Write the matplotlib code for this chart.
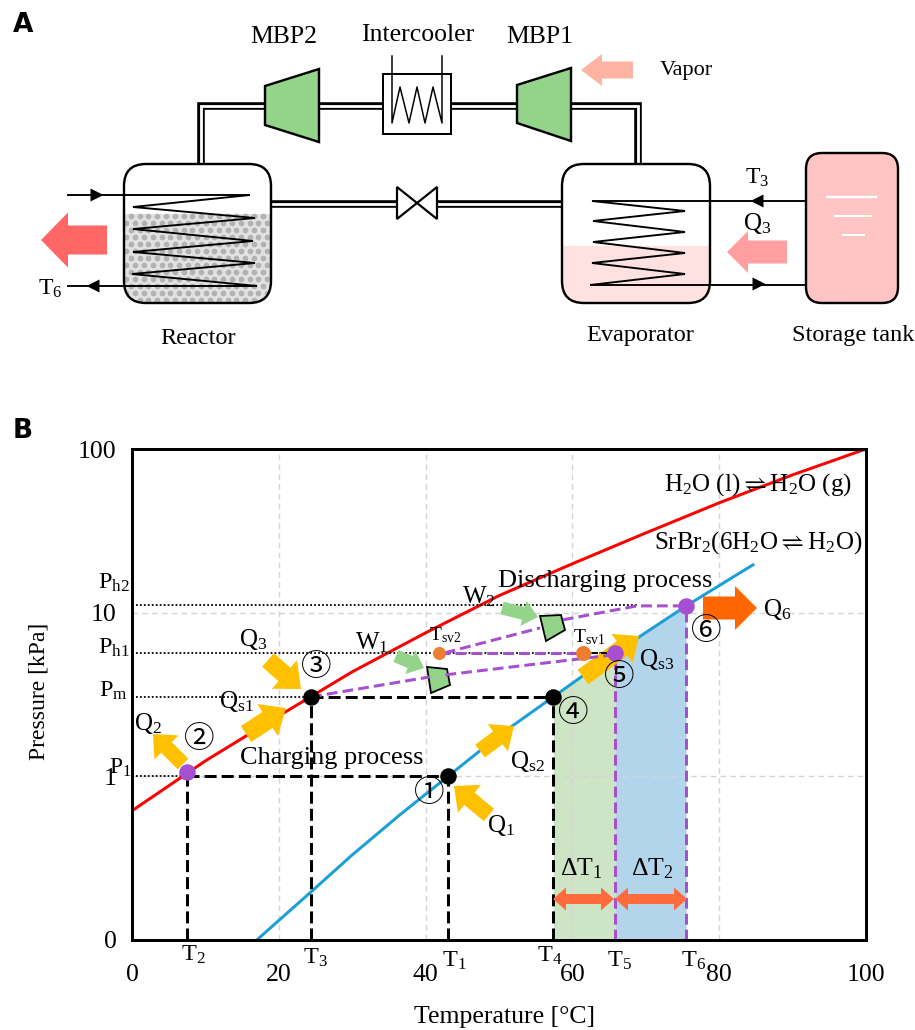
import numpy as np
import matplotlib
matplotlib.use("Agg")
import matplotlib.pyplot as plt
from matplotlib.patches import FancyBboxPatch, Polygon, Rectangle

plt.rcParams['font.family'] = ['Liberation Serif', 'DejaVu Sans']
plt.rcParams['mathtext.fontset'] = 'custom'
plt.rcParams['mathtext.rm'] = 'Liberation Serif'
plt.rcParams['mathtext.it'] = 'Liberation Serif:italic'
plt.rcParams['mathtext.bf'] = 'Liberation Serif:bold'
plt.rcParams['mathtext.fallback'] = 'stix'
plt.rcParams['mathtext.default'] = 'rm'

# ---- chart data (temperature in deg C, pressure in kPa) ----
T_red = [0, 10, 20, 30, 40, 50, 60, 70, 80, 90, 100]
P_red = [0.616, 1.243, 2.34, 4.35, 7.53, 12.7, 19.9, 30.7, 46.9, 69.5, 100]
T_blue = [17.0, 24.4, 30.0, 36.5, 43.05, 50.1, 57.4, 65.8, 75.5, 84.6]
P_blue = [0.1, 0.197, 0.331, 0.582, 1.0, 1.79, 3.06, 5.68, 11.0, 19.6]
T1, T2, T3, T4, T5, T6 = 43.05, 7.5, 24.4, 57.4, 65.8, 75.5
P1, Pm, Ph1, Ph2 = 1.0, 3.06, 5.68, 11.16
P_state2, P_state6 = 1.065, 11.0
T_sv2, T_sv1 = 41.8, 61.4
x_ticks = [0, 20, 40, 60, 80, 100]
y_ticks = [0.1, 1, 10, 100]
y_tick_labels = ['0', '1', '10', '100']
purple_low_a_T, purple_low_a_P = [24.4, 40.6], [3.06, 4.05]
purple_low_b_T, purple_low_b_P = [42.7, 65.5], [4.17, 5.52]
purple_up_a_T, purple_up_a_P = [42.6, 55.6], [5.68, 8.07]
purple_up_b_T, purple_up_b_P = [58.7, 68.8, 75.5], [9.04, 11.0, 11.0]

W, H = 915, 1030
fig = plt.figure(figsize=(W / 100, H / 100), dpi=100, facecolor='white')
PX = 0.72  # one pixel in points

axpos = [132 / W, 1 - 940 / H, 734 / W, 491 / H]
ax = fig.add_axes(axpos, zorder=1)
ax.set_xscale('linear'); ax.set_yscale('log')
ax.set_xlim(0, 100); ax.set_ylim(0.1, 100)
ax.set_xticks(x_ticks); ax.set_yticks(y_ticks); ax.set_yticklabels(y_tick_labels)
ax.minorticks_off()
ax.tick_params(axis='both', length=0, labelsize=18.5)
ax.tick_params(axis='x', pad=17)
ax.tick_params(axis='y', pad=11)
for s in ax.spines.values():
    s.set_linewidth(3 * PX)
    s.set_zorder(6)
ax.set_xlabel('Temperature [°C]', fontsize=18.5, va='center')
ax.xaxis.set_label_coords((505 - 132) / 734, -(1017 - 940) / 491)
ax.set_ylabel('Pressure [kPa]', fontsize=17, va='center')
ax.yaxis.set_label_coords(-(132 - 39) / 734, (940 - 691) / 491)
ax.grid(True, color='#d4d4d4', ls=(0, (4, 3)), lw=1.4 * PX)
ax.set_axisbelow(False)
for axis in (ax.xaxis, ax.yaxis):
    lines = axis.get_gridlines()
    lines[0].set_visible(False)
    lines[-1].set_visible(False)

tb = np.array(T_blue); pb = np.array(P_blue)
m1 = (tb >= T4) & (tb <= T5); m2 = (tb >= T5) & (tb <= T6)
ax.fill_between(tb[m1], 0.1, pb[m1], color='#CDE4C5', lw=0, zorder=1)
ax.fill_between(tb[m2], 0.1, pb[m2], color='#B2D5EB', lw=0, zorder=1)
ax.plot(T_red, P_red, color='#FF0000', lw=3 * PX, zorder=3)
ax.plot(T_blue, P_blue, color='#1B9FD8', lw=3 * PX, zorder=3)

# guide lines
dot = dict(color='black', ls=(0, (1, 1.2)), lw=1.8 * PX, zorder=3)
ax.plot([0, T5], [Ph1, Ph1], **dot)
ax.plot([0, 68.8], [Ph2, Ph2], **dot)
ax.plot([0, T3], [Pm, Pm], **dot)
ax.plot([0, T2], [P1, P1], **dot)
dash = dict(color='black', ls=(0, (4, 1.7)), lw=3 * PX, zorder=3.5)
ax.plot([T2, T1], [P1, P1], **dash)
ax.plot([T3, T4], [Pm, Pm], **dash)
for tv, pv in [(T2, P_state2), (T3, Pm), (T1, P1), (T4, Pm)]:
    ax.plot([tv, tv], [0.1, pv], **dash)
pur = dict(color='#A64FD0', ls=(0, (3.6, 1.7)), lw=3 * PX, zorder=3.5)
for tv, pv in [(T5, Ph1), (T6, P_state6)]:
    ax.plot([tv, tv], [0.1, pv], **pur)

# pixel overlay for arrows and schematic
pa = fig.add_axes([0, 0, 1, 1], zorder=2)
pa.set_xlim(0, W); pa.set_ylim(H, 0); pa.axis('off'); pa.patch.set_alpha(0)


def arrow(a, tip, tail, shaft, head, hlen, color, z=3):
    tip, tail = np.array(tip, float), np.array(tail, float)
    d = tip - tail; d /= np.hypot(*d); n = np.array([-d[1], d[0]])
    b = tip - d * hlen
    pts = [tail + n * shaft / 2, b + n * shaft / 2, b + n * head / 2, tip,
           b - n * head / 2, b - n * shaft / 2, tail - n * shaft / 2]
    a.add_patch(Polygon(pts, closed=True, fc=color, ec='none', zorder=z))


def double_arrow(a, x0, x1, y, shaft, head, hlen, color):
    pts = [(x0, y), (x0 + hlen, y - head / 2), (x0 + hlen, y - shaft / 2),
           (x1 - hlen, y - shaft / 2), (x1 - hlen, y - head / 2), (x1, y),
           (x1 - hlen, y + head / 2), (x1 - hlen, y + shaft / 2),
           (x0 + hlen, y + shaft / 2), (x0 + hlen, y + head / 2)]
    a.add_patch(Polygon(pts, closed=True, fc=color, ec='none', zorder=3))


def pipe(path):
    xs, ys = zip(*path)
    pa.plot(xs, ys, color='black', lw=7.6 * PX, solid_joinstyle='miter', solid_capstyle='butt', zorder=2)
    pa.plot(xs, ys, color='white', lw=2.8 * PX, solid_joinstyle='miter', solid_capstyle='butt', zorder=2.1)


def vessel(x0, y0, x1, y1, r, fc='none', lw=2.4, z=5):
    p = FancyBboxPatch((x0, y0), x1 - x0, y1 - y0, boxstyle=f'round,pad=0,rounding_size={r}',
                       fc=fc, ec='black', lw=lw * PX, zorder=z)
    pa.add_patch(p)
    return p


def tri(x, y, direction):
    s = direction
    pa.add_patch(Polygon([(x + s * 6.5, y), (x - s * 6.5, y - 6.5), (x - s * 6.5, y + 6.5)],
                         fc='black', ec='none', zorder=6))


GREEN = '#94D38A'
YEL = '#FFC000'
# pipes
pipe([(200.5, 164), (200.5, 105.5), (265, 105.5)])
pipe([(319, 105.5), (383, 105.5)])
pipe([(451, 105.5), (517, 105.5)])
pipe([(571, 105.5), (637.5, 105.5), (637.5, 164)])
pipe([(271, 203.5), (397, 203.5)])
pipe([(437, 203.5), (562, 203.5)])

# compressors
for poly in ([(265, 86), (319, 69), (319, 142), (265, 125)],
             [(517, 85), (571, 68), (571, 141), (517, 123)]):
    pa.add_patch(Polygon(poly, fc=GREEN, ec='black', lw=2.4 * PX, zorder=4, joinstyle='miter'))
# intercooler
pa.add_patch(Rectangle((383, 74), 68, 60, fc='white', ec='black', lw=2 * PX, zorder=4))
pa.plot([392, 392, 400, 409, 417, 425, 433, 442, 442], [56, 123, 87, 123, 87, 123, 87, 123, 56],
        color='black', lw=1.5 * PX, zorder=5)
# valve
for poly in ([(397, 187), (397, 219), (417, 203)], [(437, 187), (437, 219), (417, 203)]):
    pa.add_patch(Polygon(poly, fc='white', ec='black', lw=2.2 * PX, zorder=4))

# reactor
vessel(124, 164, 271, 303, 22, fc='none')
pa.add_patch(FancyBboxPatch((124, 164), 147, 139, boxstyle='round,pad=0,rounding_size=22',
                            fc='white', ec='none', zorder=3))
clip = FancyBboxPatch((124, 164), 147, 139, boxstyle='round,pad=0,rounding_size=22',
                      fc='none', ec='none', transform=pa.transData)
pa.add_patch(clip)
bed = Rectangle((124, 214), 147, 89, fc='#e2e2e2', ec='none', zorder=3.2)
pa.add_patch(bed); bed.set_clip_path(clip)
gx, gy = [], []
for i, yy in enumerate(np.arange(216, 304, 7.0)):
    for xx in np.arange(122 + (i % 2) * 4.4, 274, 8.8):
        gx.append(xx); gy.append(yy)
dots = pa.scatter(gx, gy, s=17, c='#b2b2b2', linewidths=0, zorder=3.3)
dots.set_clip_path(clip)
pa.plot([68, 250, 133, 255, 133, 253, 133, 255, 132, 257, 68],
        [195, 195, 207, 218, 229, 241, 252, 263, 274, 286, 286],
        color='black', lw=1.9 * PX, zorder=6, solid_joinstyle='miter')
tri(97, 195, 1); tri(93, 286, -1)

# evaporator
pa.add_patch(FancyBboxPatch((562, 164), 148, 139, boxstyle='round,pad=0,rounding_size=22',
                            fc='white', ec='none', zorder=3))
clip2 = FancyBboxPatch((562, 164), 148, 139, boxstyle='round,pad=0,rounding_size=22',
                       fc='none', ec='none')
pa.add_patch(clip2)
liq = Rectangle((562, 246), 148, 57, fc='#FFE1E1', ec='none', zorder=3.2)
pa.add_patch(liq); liq.set_clip_path(clip2)
vessel(562, 164, 710, 303, 22)
pa.plot([806, 592, 685, 593, 685, 593, 685, 592, 685, 590, 806],
        [201, 201, 211, 221, 232, 242, 253, 263, 274, 285, 285],
        color='black', lw=1.9 * PX, zorder=6, solid_joinstyle='miter')
tri(757, 201, -1); tri(759, 284, 1)

# storage tank
vessel(806, 153, 898, 303, 16, fc='#FFC4C4', z=4)
for x0, x1, y, w in [(826, 877, 197, 2.4), (834, 872, 216, 2), (842, 865, 235, 2)]:
    pa.plot([x0, x1], [y, y], color='white', lw=w * PX, zorder=5, solid_capstyle='butt')

# block arrows of panel A
arrow(pa, (41, 240), (107, 240), 29, 55, 27, '#FF6666')
arrow(pa, (581, 70), (633, 70), 17, 32, 21, '#FFB3A3')
arrow(pa, (727, 252), (787, 252), 23, 42, 21, '#FF9F9F')

# panel B arrows
arrow(pa, (153, 734), (183, 764), 15, 34, 19, YEL)
arrow(pa, (301, 689), (268, 660), 18, 38, 22, YEL)
arrow(pa, (286, 708), (246, 734), 19, 38, 22, YEL)
arrow(pa, (514, 726), (480, 751), 16, 34, 20, YEL)
arrow(pa, (639, 636), (583, 677), 18, 36, 21, YEL)
arrow(pa, (454, 786), (489, 815), 16, 36, 20, YEL)
arrow(pa, (757, 608), (703, 608), 23, 44, 22, '#FF6600')
arrow(pa, (424, 668), (396, 656), 13, 26, 15, GREEN)
arrow(pa, (538, 617), (502, 608), 13, 26, 15, GREEN)
double_arrow(pa, 553, 614, 899, 10, 23, 13, '#FF6B3D')
double_arrow(pa, 615, 687, 899, 10, 23, 13, '#FF6B3D')
pa.add_patch(Polygon([(427, 667), (447, 669), (450, 685), (431, 693)], fc=GREEN, ec='black', lw=1.8 * PX, zorder=4))
pa.add_patch(Polygon([(540, 616), (561, 615), (565, 630), (546, 641)], fc=GREEN, ec='black', lw=1.8 * PX, zorder=4))

# upper data layer: process lines and state points
top = fig.add_axes(axpos, zorder=3, sharex=ax, sharey=ax)
top.axis('off'); top.patch.set_alpha(0)
for tv, pv in [(purple_low_a_T, purple_low_a_P), (purple_low_b_T, purple_low_b_P),
               (purple_up_a_T, purple_up_a_P), (purple_up_b_T, purple_up_b_P),
               ([T_sv2, T_sv1], [Ph1, Ph1])]:
    top.plot(tv, pv, **pur)
top.plot([T_sv1, T5], [Ph1, Ph1], color='black', ls=(0, (3, 1.5)), lw=2 * PX, zorder=3)
ms = 16.5
top.plot([T3, T1, T4], [Pm, P1, Pm], 'o', color='black', ms=ms * PX, mew=0, zorder=5)
top.plot([T2, T5, T6], [P_state2, Ph1, P_state6], 'o', color='#A64FD0', ms=ms * PX, mew=0, zorder=5)
top.plot([T_sv2], [Ph1], 'o', color='#ED7D31', ms=13 * PX, mew=0, zorder=5)
top.plot([T_sv1], [Ph1], 'o', color='#ED7D31', ms=15 * PX, mew=0, zorder=5)

# text layer
tx = fig.add_axes([0, 0, 1, 1], zorder=4)
tx.set_xlim(0, W); tx.set_ylim(H, 0); tx.axis('off'); tx.patch.set_alpha(0)


def t(x, y, s, size=17, ha='center', va='center', **k):
    tx.text(x, y, s, fontsize=size, ha=ha, va=va, **k)


tx.text(23, 25, 'A', fontsize=19, fontweight='black', family='DejaVu Sans', ha='center', va='center')
tx.text(23, 431, 'B', fontsize=19, fontweight='black', family='DejaVu Sans', ha='center', va='center')
t(284, 37, 'MBP2', 18.5)
t(418, 35, 'Intercooler', 18.5)
t(540, 37, 'MBP1', 18.5)
t(686, 71, 'Vapor', 16)
t(198, 338, 'Reactor', 17.5)
t(640, 336, 'Evaporator', 17.5)
t(853, 336, 'Storage tank', 17.5)
t(757, 178, r'T$_{3}$', 17)
t(757, 224, r'Q$_{3}$', 18)
t(50, 289, r'T$_{6}$', 17)
t(758, 485, r'H$_{2}$O (l)$\rightleftharpoons$H$_{2}$O (g)', 18)
t(758, 543, r'SrBr$_{2}$(6H$_{2}$O$\rightleftharpoons$H$_{2}$O)', 18)
t(605, 581, 'Discharging process', 19)
t(332, 758, 'Charging process', 19)
t(114, 583, r'P$_{h2}$', 17.5)
t(114, 648, r'P$_{h1}$', 17.5)
t(113, 691, r'P$_{m}$', 17.5)
t(120, 768, r'P$_{1}$', 17)
t(148, 724, r'Q$_{2}$', 18)
t(253, 640, r'Q$_{3}$', 18)
t(236, 702, r'Q$_{s1}$', 18)
t(501, 826, r'Q$_{1}$', 18)
t(527, 762, r'Q$_{s2}$', 18)
t(657, 660, r'Q$_{s3}$', 18)
t(777, 609, r'Q$_{6}$', 18)
t(372, 643, r'W$_{1}$', 18)
t(479, 597, r'W$_{2}$', 18)
t(445, 635, r'T$_{sv2}$', 14)
t(589, 637, r'T$_{sv1}$', 14)
for x, y, s in [(193, 955, 'T$_{2}$'), (315, 958, 'T$_{3}$'), (454, 961, 'T$_{1}$'),
                (550, 956, 'T$_{4}$'), (619, 961, 'T$_{5}$'), (694, 961, 'T$_{6}$')]:
    t(x, y, s, 17.5)
t(581, 869, r'$\Delta$T$_{1}$', 18.5)
t(652, 869, r'$\Delta$T$_{2}$', 18.5)
CJK = ['Noto Sans CJK JP', 'DejaVu Sans']
for x, y, s in [(429, 793, '①'), (199, 739, '②'), (316, 667, '③'),
                (573, 713, '④'), (619, 677, '⑤'), (706, 632, '⑥')]:
    tx.text(x, y, s, fontsize=22, family=CJK, ha='center', va='center')

fig.savefig('out.png', dpi=100)
